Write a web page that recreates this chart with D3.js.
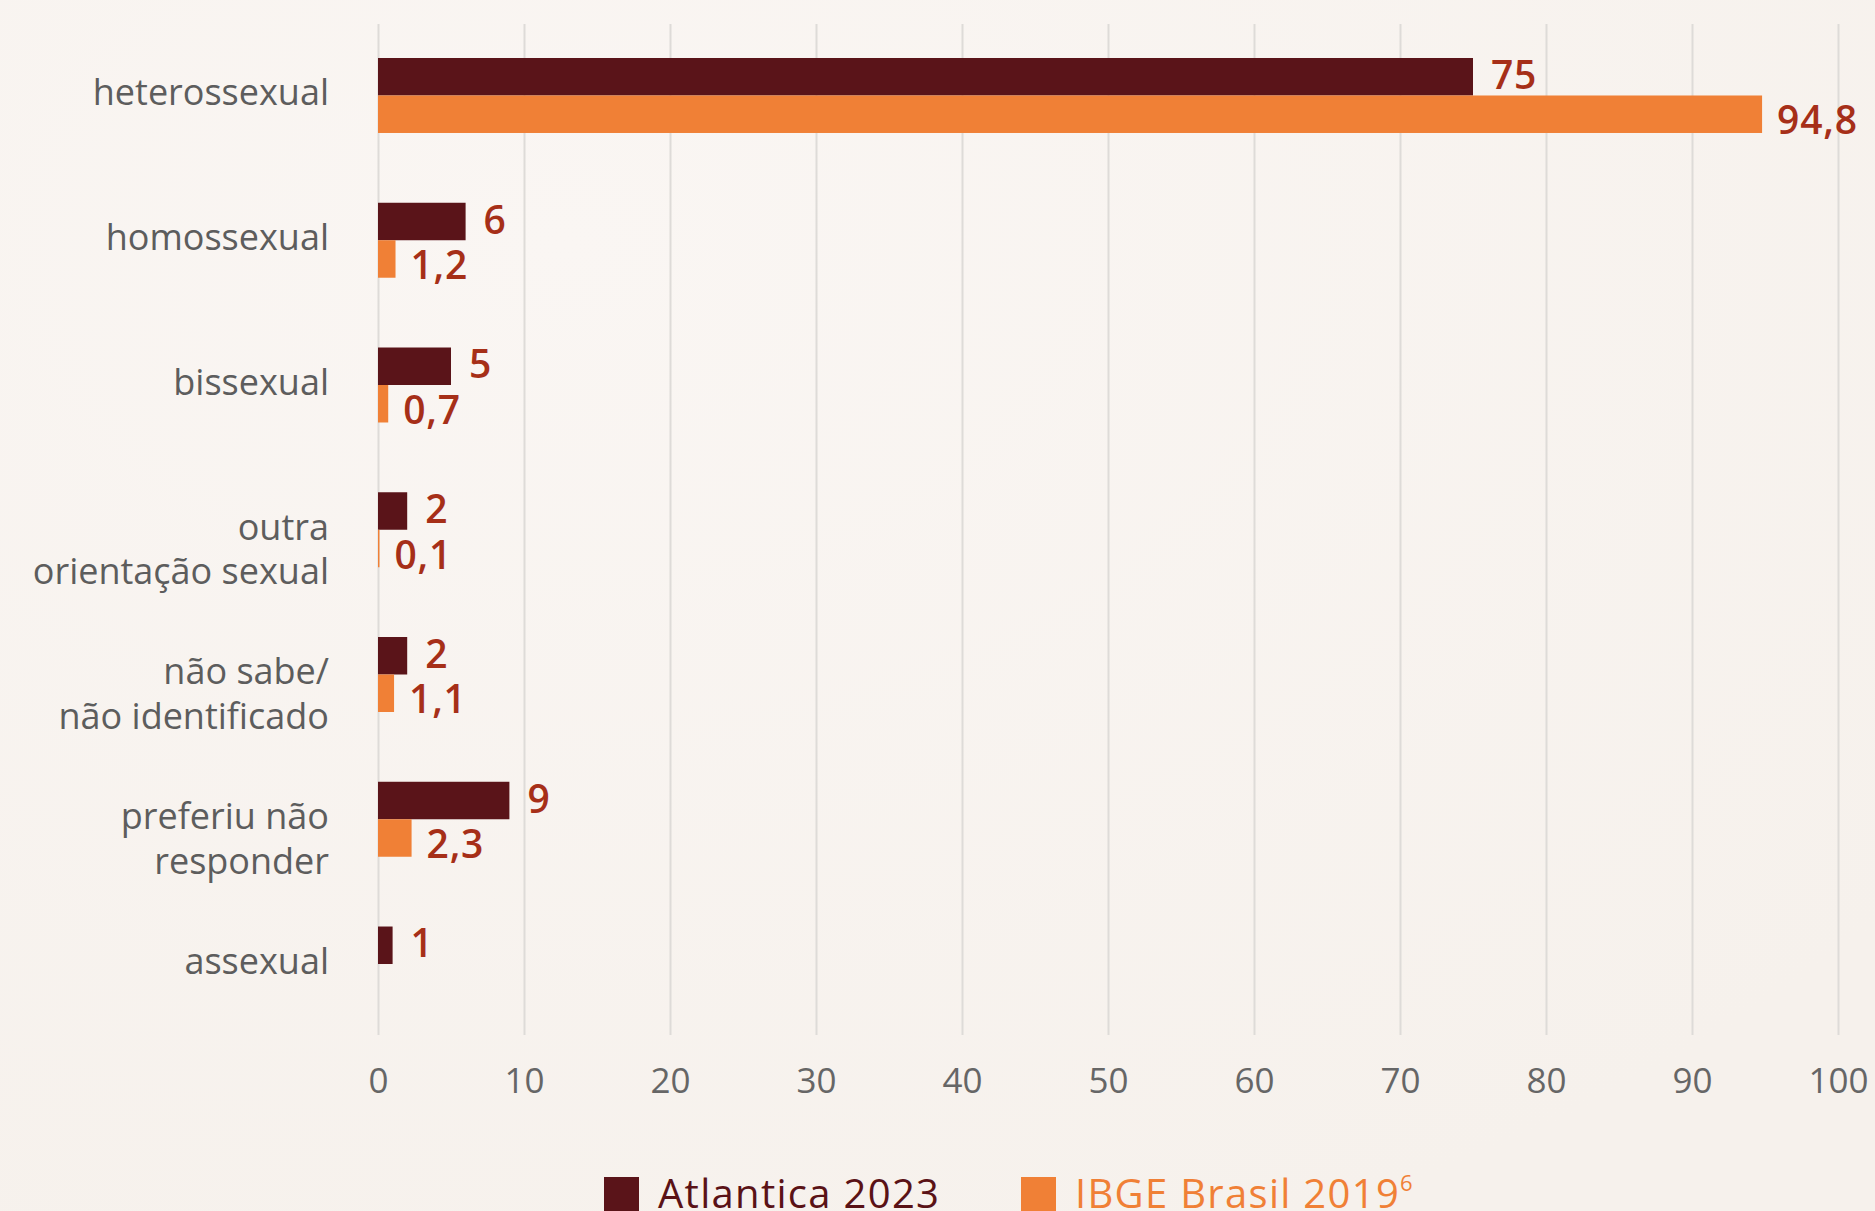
<!DOCTYPE html>
<html>
<head>
<meta charset="utf-8">
<script src="https://cdn.jsdelivr.net/npm/d3@7"></script>
<style>
  body { margin: 0; background: #f8f3ef; }
  svg { display: block; }
</style>
</head>
<body>
<svg class="chart"></svg>
<script>
// data
var categories = [
  ["heterossexual"],
  ["homossexual"],
  ["bissexual"],
  ["outra", "orientação sexual"],
  ["não sabe/", "não identificado"],
  ["preferiu não", "responder"],
  ["assexual"]
];
var atlantica = [75, 6, 5, 2, 2, 9, 1];
var ibge = [94.8, 1.2, 0.7, 0.1, 1.1, 2.3, null];
var seriesNames = ["Atlantica 2023", "IBGE Brasil 2019"];
var tickValues = [0, 10, 20, 30, 40, 50, 60, 70, 80, 90, 100];

var width = 1875, height = 1211;
var colors = ["#5a1419", "#f08036"];
var valueColor = "#a62f18";

var chart = d3.select('.chart')
    .attr('width', width)
    .attr('height', height);

// paper background
var defs = chart.append('defs');
var grad = defs.append('radialGradient').attr('id', 'paper')
    .attr('cx', '30%').attr('cy', '20%').attr('r', '90%');
grad.append('stop').attr('offset', '0%').attr('stop-color', '#faf6f3');
grad.append('stop').attr('offset', '100%').attr('stop-color', '#f6f1ec');
chart.append('rect')
    .attr('width', width).attr('height', height)
    .attr('fill', 'url(#paper)');

var keys = categories.map(function(d) { return d.join(' '); });

var x = d3.scaleLinear()
    .domain([0, 100])
    .range([378, 1838]);

var y = d3.scaleBand()
    .domain(keys)
    .range([58, 1001.5])
    .paddingInner(0.482)
    .paddingOuter(0);

var ySub = d3.scaleBand()
    .domain([0, 1])
    .range([0, y.bandwidth()]);

// grid + axis
var gridTop = 24, gridBottom = 1035;
var xAxis = d3.axisBottom(x)
    .tickValues(tickValues)
    .tickSize(-(gridBottom - gridTop))
    .tickPadding(33)
    .tickFormat(d3.format('d'));

var axisG = chart.append('g')
    .attr('transform', `translate(0, ${gridBottom})`)
    .call(xAxis);
axisG.select('.domain').remove();
axisG.selectAll('.tick line')
    .attr('stroke', '#dedbd8')
    .attr('stroke-width', 2);
axisG.selectAll('.tick text')
    .attr('fill', '#666')
    .style('font-family', '"Open Sans", sans-serif')
    .style('font-size', '35px');

// bars
var rows = categories.map(function(c, i) {
  return { key: keys[i], lines: c, values: [atlantica[i], ibge[i]] };
});

function present(d) {
  return d.values.map(function(v, j) { return { v: v, j: j }; })
    .filter(function(e) { return e.v != null; });
}

var group = chart.selectAll('.group')
    .data(rows)
    .enter().append('g')
    .attr('class', 'group')
    .attr('transform', function(d) { return `translate(0, ${y(d.key)})`; });

group.selectAll('rect')
    .data(present)
    .enter().append('rect')
    .attr('x', x(0))
    .attr('y', function(e) { return ySub(e.j); })
    .attr('width', function(e) { return x(e.v) - x(0); })
    .attr('height', ySub.bandwidth())
    .attr('fill', function(e) { return colors[e.j]; });

group.selectAll('.val')
    .data(present)
    .enter().append('text')
    .attr('class', 'val')
    .attr('x', function(e) { return x(e.v) + (e.j === 0 ? 18 : 15); })
    .attr('y', function(e) { return ySub(e.j) + ySub.bandwidth() / 2 + (e.j === 0 ? -2 : 6); })
    .attr('dy', '0.36em')
    .attr('fill', valueColor)
    .style('font-family', '"Open Sans", sans-serif')
    .style('font-weight', 600)
    .style('font-size', '39px')
    .style('letter-spacing', '0.8px')
    .text(function(e) { return String(e.v).replace('.', ','); });

// category labels
var label = group.append('text')
    .attr('text-anchor', 'end')
    .attr('fill', '#5d5d5d')
    .style('font-family', '"Open Sans", sans-serif')
    .style('font-size', '36px');
label.selectAll('tspan')
    .data(function(d) { return d.lines; })
    .enter().append('tspan')
    .attr('x', 329)
    .attr('y', function(l, k) { return y.bandwidth() / 2 + 10 + k * 44.6; })
    .text(function(l) { return l; });

// legend
var legendItems = [
  { name: seriesNames[0], x: 604, color: colors[0], textColor: '#5a1216' },
  { name: seriesNames[1], x: 1021, color: colors[1], textColor: colors[1], sup: '6' }
];
var legend = chart.selectAll('.legend')
    .data(legendItems)
    .enter().append('g')
    .attr('class', 'legend')
    .attr('transform', function(d) { return `translate(${d.x}, 1177)`; });
legend.append('rect')
    .attr('width', 35)
    .attr('height', 36)
    .attr('fill', function(d) { return d.color; });
var lt = legend.append('text')
    .attr('x', 54)
    .attr('y', 31)
    .attr('fill', function(d) { return d.textColor; })
    .style('font-family', '"Open Sans", sans-serif')
    .style('font-size', '40px')
    .style('letter-spacing', '1.3px')
    .text(function(d) { return d.name; });
lt.filter(function(d) { return d.sup; })
  .append('tspan')
    .attr('dy', -17)
    .style('font-size', '22px')
    .text(function(d) { return d.sup; });
</script>
</body>
</html>
